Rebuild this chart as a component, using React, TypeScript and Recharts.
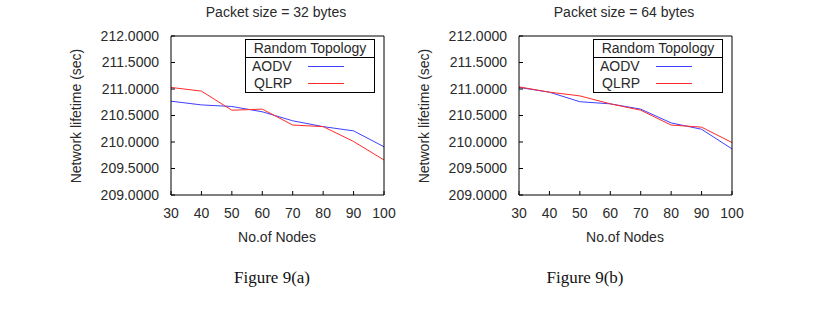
import { LineChart, Line, XAxis, YAxis } from 'recharts';

const nodes = [30, 40, 50, 60, 70, 80, 90, 100];

const aodv32 = [210.77, 210.7, 210.67, 210.57, 210.4, 210.29, 210.21, 209.91];
const qlrp32 = [211.03, 210.96, 210.6, 210.62, 210.32, 210.29, 210.01, 209.66];

const aodv64 = [211.03, 210.94, 210.76, 210.72, 210.62, 210.36, 210.24, 209.87];
const qlrp64 = [211.04, 210.94, 210.87, 210.72, 210.6, 210.32, 210.28, 209.99];

const yTicks = [209, 209.5, 210, 210.5, 211, 211.5, 212];

const FONT = '"Liberation Sans", Arial, sans-serif';
const BLUE = '#3f3fff';
const RED = '#ff2a2a';
const INK = '#2a2a2a';

const buildRows = (a: number[], q: number[]) =>
  nodes.map((n, i) => ({ nodes: n, aodv: a[i], qlrp: q[i] }));

function LegendBox() {
  const row = (name: string, color: string, pad: number) => (
    <div style={{ display: 'flex', alignItems: 'center', height: 17 }}>
      <span style={{ width: 62 - pad, paddingLeft: pad }}>{name}</span>
      <svg width={36} height={3} style={{ display: 'block' }}>
        <line x1={0} y1={1.5} x2={36} y2={1.5} stroke={color} strokeWidth={1} />
      </svg>
    </div>
  );
  return (
    <div style={{ position: 'absolute', left: 195, top: 39, width: 128, border: '1px solid #000', background: '#fff', fontFamily: FONT, fontSize: 14, color: INK, lineHeight: '17px' }}>
      <div style={{ textAlign: 'center', borderBottom: '1px solid #000', height: 17 }}>Random Topology</div>
      {row('AODV', BLUE, 6)}
      {row('QLRP', RED, 8)}
    </div>
  );
}

interface PanelProps {
  left: number;
  title: string;
  caption: string;
  captionX: number;
  aodv: number[];
  qlrp: number[];
}

function Panel({ left, title, caption, captionX, aodv, qlrp }: PanelProps) {
  const data = buildRows(aodv, qlrp);
  const textStyle = { position: 'absolute' as const, fontFamily: FONT, fontSize: 14, color: INK, whiteSpace: 'nowrap' as const };
  const tickStyle = { fill: INK, fontSize: 14, fontFamily: FONT };
  return (
    <div style={{ position: 'absolute', left, top: 0, width: 348, height: 331 }}>
      <div style={{ ...textStyle, left: 226, top: 12, transform: 'translate(-50%, -50%)' }}>{title}</div>
      <div style={{ ...textStyle, left: 26, top: 116, transform: 'translate(-50%, -50%) rotate(-90deg)' }}>Network lifetime (sec)</div>
      <div style={{ ...textStyle, left: 227, top: 237, transform: 'translate(-50%, -50%)' }}>No.of Nodes</div>
      <div style={{ ...textStyle, fontFamily: '"Liberation Serif", "Times New Roman", serif', fontSize: 17, color: '#111', left: captionX, top: 278, transform: 'translate(-50%, -50%)' }}>{caption}</div>
      <LineChart width={348} height={260} data={data} margin={{ top: 36, right: 14, left: 0, bottom: 0 }}>
        <XAxis xAxisId="b" dataKey="nodes" type="number" domain={[30, 100]} ticks={nodes} interval={0} height={65}
          stroke="#000" tickSize={-4} tickMargin={17} tick={tickStyle} />
        <XAxis xAxisId="t" orientation="top" mirror dataKey="nodes" type="number" domain={[30, 100]} ticks={nodes} interval={0}
          stroke="#000" tickSize={4} tick={false} />
        <YAxis yAxisId="l" type="number" domain={[209, 212]} ticks={yTicks} interval={0} width={121} stroke="#000"
          tickSize={-4} tickMargin={16} tickFormatter={(v: number) => v.toFixed(4)} tick={tickStyle} />
        <YAxis yAxisId="r" orientation="right" mirror type="number" domain={[209, 212]} ticks={yTicks} interval={0}
          stroke="#000" tickSize={4} tick={false} />
        <Line xAxisId="b" yAxisId="l" dataKey="aodv" stroke={BLUE} strokeWidth={1} dot={false} isAnimationActive={false} />
        <Line xAxisId="b" yAxisId="l" dataKey="qlrp" stroke={RED} strokeWidth={1} dot={false} isAnimationActive={false} />
      </LineChart>
      <LegendBox />
    </div>
  );
}

export default function App() {
  return (
    <div style={{ position: 'absolute', left: 0, top: 0, width: 824, height: 331, background: '#fff' }}>
      <Panel left={50} title="Packet size = 32 bytes" caption="Figure 9(a)" captionX={222} aodv={aodv32} qlrp={qlrp32} />
      <Panel left={398} title="Packet size = 64 bytes" caption="Figure 9(b)" captionX={187} aodv={aodv64} qlrp={qlrp64} />
    </div>
  );
}
